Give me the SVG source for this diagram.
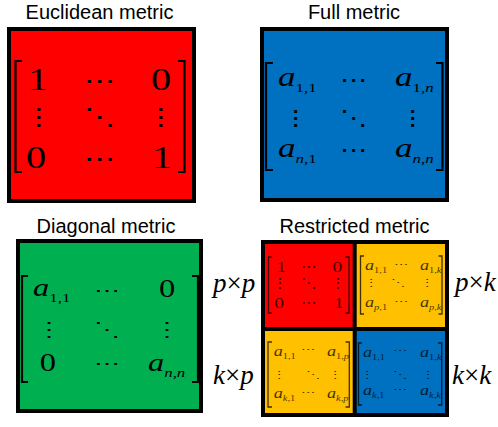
<svg xmlns="http://www.w3.org/2000/svg" width="498" height="427" viewBox="0 0 498 427">
<style>
.title{font-family:"Liberation Sans",Arial,sans-serif;font-size:20px;fill:#000;text-anchor:middle}
.m{font-family:"Liberation Serif","Times New Roman",serif;fill:#000}
.mi{font-family:"Liberation Serif","Times New Roman",serif;font-style:italic;fill:#000}
.up{font-style:normal}
.d{font-family:"DejaVu Serif",serif;text-anchor:middle;font-size:0.78em}
.c{text-anchor:middle}
.box{stroke:#000;stroke-width:4}
.br{fill:none;stroke:#000;stroke-width:2.2}
.sm{fill-opacity:0.75}
.brsm{fill:none;stroke:#000;stroke-width:1.3;stroke-opacity:0.75}
</style>

<g id="euclidean">
<text class="title" x="99.5" y="18.5">Euclidean metric</text>
<rect class="box" x="9" y="29" width="185" height="172" fill="#FF0000"/>
<path class="br" d="M22,61 H15.5 V172 H22"/>
<path class="br" d="M178,61 H184.5 V172 H178"/>
<g class="m" font-size="31" transform="translate(100,0) scale(1.3,1)">
<text class="c" x="-47.7" y="90">1</text>
<text class="d" x="0" y="89">⋯</text>
<text class="c" x="46.9" y="90">0</text>
<text class="d" x="-47" y="125">⋮</text>
<text class="d" x="0" y="125">⋱</text>
<text class="d" x="47" y="125">⋮</text>
<text class="c" x="-49.2" y="168">0</text>
<text class="d" x="0" y="167">⋯</text>
<text class="c" x="47.7" y="168">1</text>
</g>
</g>

<g id="full">
<text class="title" x="354" y="18.5">Full metric</text>
<rect class="box" x="262" y="29" width="185" height="171" fill="#0070C0"/>
<path class="br" d="M273,63 H266 V170 H273"/>
<path class="br" d="M436,63 H442.5 V170 H436"/>
<g class="m" font-size="27" transform="translate(354,0) scale(1.3,1)">
<text class="mi" x="-58.5" y="86">a<tspan class="up" font-size="13" dy="6">1,1</tspan></text>
<text class="d" x="-0.8" y="87">⋯</text>
<text class="mi" x="31.5" y="86">a<tspan font-size="13" dy="6"><tspan class="up">1,</tspan>n</tspan></text>
<text class="d" x="-45.4" y="125">⋮</text>
<text class="d" x="-0.8" y="125">⋱</text>
<text class="d" x="44.6" y="125">⋮</text>
<text class="mi" x="-58.5" y="157">a<tspan font-size="13" dy="6">n<tspan class="up">,1</tspan></tspan></text>
<text class="d" x="-0.8" y="157">⋯</text>
<text class="mi" x="31.5" y="157">a<tspan font-size="13" dy="6">n<tspan class="up">,</tspan>n</tspan></text>
</g>
</g>

<g id="diagonal">
<text class="title" x="106" y="233">Diagonal metric</text>
<rect class="box" x="18" y="241" width="183" height="170" fill="#00B050"/>
<path class="br" d="M28,276 H22 V382 H28"/>
<path class="br" d="M192,276 H198 V382 H192"/>
<g class="m" font-size="25" transform="translate(107,0) scale(1.3,1)">
<text class="mi" x="-56.9" y="296">a<tspan class="up" font-size="13" dy="6">1,1</tspan></text>
<text class="d" x="0" y="297">⋯</text>
<text class="c" x="46.2" y="297">0</text>
<text class="d" x="-44.6" y="336">⋮</text>
<text class="d" x="0" y="336">⋱</text>
<text class="d" x="46.2" y="336">⋮</text>
<text class="c" x="-45.4" y="371">0</text>
<text class="d" x="0" y="370">⋯</text>
<text class="mi" x="31.5" y="371">a<tspan font-size="13" dy="6">n<tspan class="up">,</tspan>n</tspan></text>
</g>
</g>

<g id="restricted">
<text class="title" x="354.5" y="233">Restricted metric</text>
<rect x="263" y="242" width="92" height="87" fill="#FF0000"/>
<rect x="355" y="242" width="92" height="87" fill="#FFC000"/>
<rect x="263" y="329" width="92" height="86" fill="#FFC000"/>
<rect x="355" y="329" width="92" height="86" fill="#0070C0"/>
<rect x="263" y="242" width="184" height="173" fill="none" class="box"/>
<line x1="354.7" y1="242" x2="354.7" y2="415" class="box"/>
<line x1="263" y1="329" x2="447" y2="329" class="box"/>

<path class="brsm" d="M272,257 H268.5 V313 H272"/>
<path class="brsm" d="M345.5,257 H349 V313 H345.5"/>
<g class="m sm" font-size="15" transform="translate(309,0) scale(1.3,1)">
<text class="c" x="-21.5" y="272">1</text>
<text class="d" x="0" y="271">⋯</text>
<text class="c" x="21.9" y="272">0</text>
<text class="d" x="-22.3" y="287">⋮</text>
<text class="d" x="0" y="287">⋱</text>
<text class="d" x="22.3" y="287">⋮</text>
<text class="c" x="-23" y="308">0</text>
<text class="d" x="0" y="307">⋯</text>
<text class="c" x="23" y="308">1</text>
</g>

<path class="brsm" d="M364,256 H360.5 V314 H364"/>
<path class="brsm" d="M438.5,256 H442 V314 H438.5"/>
<g class="m sm" font-size="14" transform="translate(401,0) scale(1.3,1)">
<text class="mi" x="-27.7" y="270">a<tspan class="up" font-size="8" dy="3">1,1</tspan></text>
<text class="d" x="0" y="269">⋯</text>
<text class="mi" x="14.6" y="270">a<tspan font-size="8" dy="3"><tspan class="up">1,</tspan>k</tspan></text>
<text class="d" x="-23" y="287">⋮</text>
<text class="d" x="-2.3" y="287">⋱</text>
<text class="d" x="20.5" y="287">⋮</text>
<text class="mi" x="-27.7" y="307">a<tspan font-size="8" dy="3">p<tspan class="up">,1</tspan></tspan></text>
<text class="d" x="0" y="306">⋯</text>
<text class="mi" x="14.6" y="307">a<tspan font-size="8" dy="3">p<tspan class="up">,</tspan>k</tspan></text>
</g>

<path class="brsm" d="M272,342 H268 V407 H272"/>
<path class="brsm" d="M345.5,342 H349.3 V407 H345.5"/>
<g class="m sm" font-size="14" transform="translate(308,0) scale(1.3,1)">
<text class="mi" x="-26.4" y="356">a<tspan class="up" font-size="8" dy="3">1,1</tspan></text>
<text class="d" x="0" y="354">⋯</text>
<text class="mi" x="14.6" y="356">a<tspan font-size="8" dy="3"><tspan class="up">1,</tspan>p</tspan></text>
<text class="d" x="-22.3" y="379">⋮</text>
<text class="d" x="3.8" y="379">⋱</text>
<text class="d" x="21" y="379">⋮</text>
<text class="mi" x="-26.4" y="398">a<tspan font-size="8" dy="3">k<tspan class="up">,1</tspan></tspan></text>
<text class="d" x="0" y="397">⋯</text>
<text class="mi" x="14.6" y="398">a<tspan font-size="8" dy="3">k<tspan class="up">,</tspan>p</tspan></text>
</g>

<path class="brsm" d="M362,343 H358.5 V405 H362"/>
<path class="brsm" d="M438,343 H441.7 V405 H438"/>
<g class="m sm" font-size="14" transform="translate(400,0) scale(1.3,1)">
<text class="mi" x="-28.5" y="357">a<tspan class="up" font-size="8" dy="3">1,1</tspan></text>
<text class="d" x="0" y="355">⋯</text>
<text class="mi" x="15.4" y="357">a<tspan font-size="8" dy="3"><tspan class="up">1,</tspan>k</tspan></text>
<text class="d" x="-25" y="379">⋮</text>
<text class="d" x="0" y="379">⋱</text>
<text class="d" x="21.5" y="379">⋮</text>
<text class="mi" x="-28.5" y="395">a<tspan font-size="8" dy="3">k<tspan class="up">,1</tspan></tspan></text>
<text class="d" x="0" y="394">⋯</text>
<text class="mi" x="15.4" y="395">a<tspan font-size="8" dy="3">k<tspan class="up">,</tspan>k</tspan></text>
</g>

<g class="mi" font-size="27">
<text x="213" y="292">p<tspan class="up">×</tspan>p</text>
<text x="213" y="384">k<tspan class="up">×</tspan>p</text>
<text x="455" y="291">p<tspan class="up">×</tspan>k</text>
<text x="452" y="384">k<tspan class="up">×</tspan>k</text>
</g>
</g>
</svg>
